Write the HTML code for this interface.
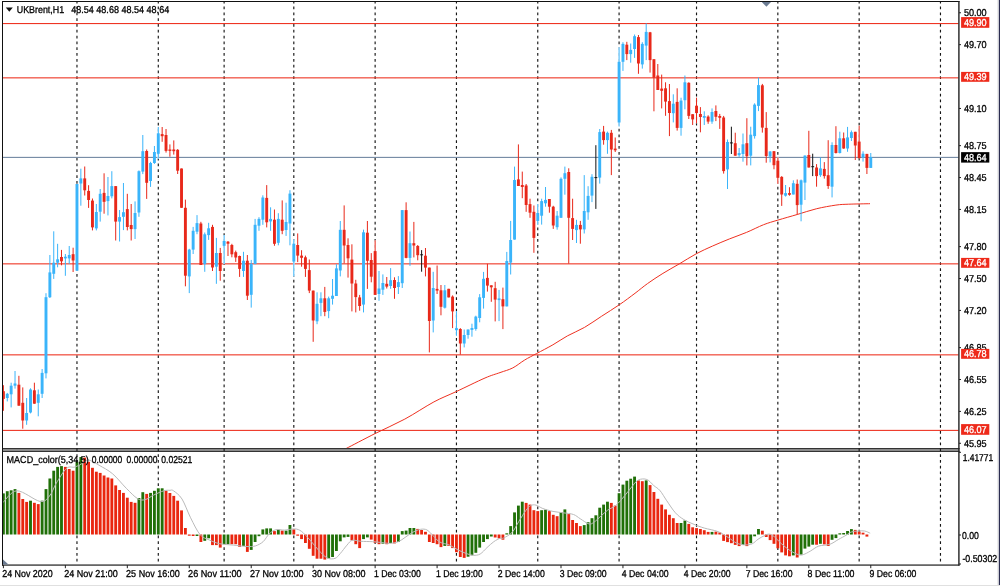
<!DOCTYPE html><html><head><meta charset="utf-8"><title>UKBrent H1</title><style>html,body{margin:0;padding:0;background:#fff;width:1000px;height:586px;overflow:hidden}</style></head><body><svg width="1000" height="586" viewBox="0 0 1000 586" style="position:absolute;left:0;top:0">
<defs><clipPath id="cm"><rect x="3" y="2" width="955.5" height="446"/></clipPath><clipPath id="ci"><rect x="3" y="452" width="955.5" height="112.5"/></clipPath></defs>
<rect width="1000" height="586" fill="#fff"/>
<rect x="2" y="448" width="957.5" height="3.9" fill="#8a8a8a"/>
<rect x="2" y="448" width="957.5" height="0.9" fill="#2a2a2a"/>
<rect x="2" y="451" width="957.5" height="0.9" fill="#2a2a2a"/>
<line x1="76.97" x2="76.97" y1="1" y2="563" stroke="#161616" stroke-width="1.15" stroke-dasharray="2.75 3.0625" stroke-dashoffset="0.22"/>
<line x1="158.29" x2="158.29" y1="1" y2="563" stroke="#161616" stroke-width="1.15" stroke-dasharray="2.75 3.0625" stroke-dashoffset="0.22"/>
<line x1="224.12" x2="224.12" y1="1" y2="563" stroke="#161616" stroke-width="1.15" stroke-dasharray="2.75 3.0625" stroke-dashoffset="0.22"/>
<line x1="293.81" x2="293.81" y1="1" y2="563" stroke="#161616" stroke-width="1.15" stroke-dasharray="2.75 3.0625" stroke-dashoffset="0.22"/>
<line x1="375.13" x2="375.13" y1="1" y2="563" stroke="#161616" stroke-width="1.15" stroke-dasharray="2.75 3.0625" stroke-dashoffset="0.22"/>
<line x1="456.45" x2="456.45" y1="1" y2="563" stroke="#161616" stroke-width="1.15" stroke-dasharray="2.75 3.0625" stroke-dashoffset="0.22"/>
<line x1="537.76" x2="537.76" y1="1" y2="563" stroke="#161616" stroke-width="1.15" stroke-dasharray="2.75 3.0625" stroke-dashoffset="0.22"/>
<line x1="619.08" x2="619.08" y1="1" y2="563" stroke="#161616" stroke-width="1.15" stroke-dasharray="2.75 3.0625" stroke-dashoffset="0.22"/>
<line x1="696.52" x2="696.52" y1="1" y2="563" stroke="#161616" stroke-width="1.15" stroke-dasharray="2.75 3.0625" stroke-dashoffset="0.22"/>
<line x1="777.84" x2="777.84" y1="1" y2="563" stroke="#161616" stroke-width="1.15" stroke-dasharray="2.75 3.0625" stroke-dashoffset="0.22"/>
<line x1="859.16" x2="859.16" y1="1" y2="563" stroke="#161616" stroke-width="1.15" stroke-dasharray="2.75 3.0625" stroke-dashoffset="0.22"/>
<line x1="940.47" x2="940.47" y1="1" y2="563" stroke="#161616" stroke-width="1.15" stroke-dasharray="2.75 3.0625" stroke-dashoffset="0.22"/>
<g clip-path="url(#cm)">
<rect x="3" y="156.85" width="956" height="1.1" fill="#7288a2"/>
<rect x="3" y="23.0" width="956" height="1.1" fill="#ee3524"/>
<rect x="3" y="77.3" width="956" height="1.1" fill="#ee3524"/>
<rect x="3" y="263.3" width="956" height="1.1" fill="#ee3524"/>
<rect x="3" y="354.3" width="956" height="1.1" fill="#ee3524"/>
<rect x="3" y="429.84999999999997" width="956" height="1.1" fill="#ee3524"/>
<path fill="none" stroke="#ee3020" stroke-width="1" d="M345.00,449.00 C345.17,448.93 341.00,451.17 346.00,448.60 C351.00,446.03 365.20,438.52 375.00,433.60 C384.80,428.68 394.98,424.38 404.80,419.10 C414.62,413.82 425.37,406.47 433.90,401.90 C442.43,397.33 447.48,395.68 456.00,391.70 C464.52,387.72 477.67,381.18 485.00,378.00 C492.33,374.82 495.37,374.28 500.00,372.60 C504.63,370.92 508.68,370.00 512.80,367.90 C516.92,365.80 520.72,362.40 524.70,360.00 C528.68,357.60 532.00,356.03 536.70,353.50 C541.40,350.97 547.78,347.73 552.90,344.80 C558.02,341.87 562.13,338.80 567.40,335.90 C572.67,333.00 578.82,330.67 584.50,327.40 C590.18,324.13 595.68,320.08 601.50,316.30 C607.32,312.52 613.82,308.53 619.40,304.70 C624.98,300.87 630.32,296.82 635.00,293.30 C639.68,289.78 642.85,286.92 647.50,283.60 C652.15,280.28 657.63,276.67 662.90,273.40 C668.17,270.13 673.55,267.27 679.10,264.00 C684.65,260.73 690.65,256.78 696.20,253.80 C701.75,250.82 706.85,248.58 712.40,246.10 C717.95,243.62 723.82,241.18 729.50,238.90 C735.18,236.62 740.82,234.77 746.50,232.40 C752.18,230.03 758.37,226.75 763.60,224.70 C768.83,222.65 772.30,221.80 777.90,220.10 C783.50,218.40 790.80,216.38 797.20,214.50 C803.60,212.62 809.85,210.37 816.30,208.80 C822.75,207.23 830.50,205.87 835.90,205.10 C841.30,204.33 843.02,204.43 848.70,204.20 C854.38,203.97 866.45,203.78 870.00,203.70"/>
<rect x="2.9" y="385.2" width="1.0" height="25.6" fill="#e8281a"/>
<rect x="1.95" y="391.2" width="2.9" height="7.7" fill="#e8281a"/>
<rect x="6.77" y="392.9" width="1.0" height="8.5" fill="#3ab4fa"/>
<rect x="5.82" y="393.8" width="2.9" height="4.2" fill="#3ab4fa"/>
<rect x="10.64" y="382.7" width="1.0" height="24.7" fill="#3ab4fa"/>
<rect x="9.69" y="385.7" width="2.9" height="8.6" fill="#3ab4fa"/>
<rect x="14.52" y="371" width="1.0" height="17.6" fill="#3ab4fa"/>
<rect x="13.57" y="383.5" width="2.9" height="2.2" fill="#3ab4fa"/>
<rect x="18.39" y="375.8" width="1.0" height="29.9" fill="#e8281a"/>
<rect x="17.44" y="384.7" width="2.9" height="21" fill="#e8281a"/>
<rect x="22.26" y="387.4" width="1.0" height="41.3" fill="#e8281a"/>
<rect x="21.31" y="402.8" width="2.9" height="17.7" fill="#e8281a"/>
<rect x="26.13" y="398" width="1.0" height="26.8" fill="#3ab4fa"/>
<rect x="25.18" y="413" width="2.9" height="7.5" fill="#3ab4fa"/>
<rect x="30.01" y="388.3" width="1.0" height="25.1" fill="#3ab4fa"/>
<rect x="29.06" y="389.5" width="2.9" height="23" fill="#3ab4fa"/>
<rect x="33.88" y="382.7" width="1.0" height="21" fill="#e8281a"/>
<rect x="32.93" y="390.3" width="2.9" height="13.4" fill="#e8281a"/>
<rect x="37.75" y="389.5" width="1.0" height="26.8" fill="#3ab4fa"/>
<rect x="36.8" y="394.3" width="2.9" height="8.5" fill="#3ab4fa"/>
<rect x="41.62" y="369" width="1.0" height="29" fill="#3ab4fa"/>
<rect x="40.67" y="372.9" width="2.9" height="20.9" fill="#3ab4fa"/>
<rect x="45.49" y="293.2" width="1.0" height="85.2" fill="#3ab4fa"/>
<rect x="44.54" y="297.2" width="2.9" height="76.1" fill="#3ab4fa"/>
<rect x="49.37" y="255" width="1.0" height="43" fill="#3ab4fa"/>
<rect x="48.42" y="272.4" width="2.9" height="24.8" fill="#3ab4fa"/>
<rect x="53.24" y="231.3" width="1.0" height="47.6" fill="#3ab4fa"/>
<rect x="52.29" y="262.7" width="2.9" height="11.1" fill="#3ab4fa"/>
<rect x="57.11" y="243.8" width="1.0" height="23.5" fill="#3ab4fa"/>
<rect x="56.16" y="259.3" width="2.9" height="3.4" fill="#3ab4fa"/>
<rect x="60.98" y="249.9" width="1.0" height="15.4" fill="#e8281a"/>
<rect x="60.03" y="257" width="2.9" height="4.3" fill="#e8281a"/>
<rect x="64.86" y="254" width="1.0" height="21.8" fill="#3ab4fa"/>
<rect x="63.91" y="256.7" width="2.9" height="1.7" fill="#3ab4fa"/>
<rect x="68.73" y="246" width="1.0" height="17.9" fill="#3ab4fa"/>
<rect x="67.78" y="255" width="2.9" height="3.4" fill="#3ab4fa"/>
<rect x="72.6" y="247.7" width="1.0" height="24.3" fill="#e8281a"/>
<rect x="71.65" y="254.2" width="2.9" height="6.3" fill="#e8281a"/>
<rect x="76.07" y="184" width="1.8" height="86.7" fill="#fff"/>
<rect x="76.47" y="184" width="1.0" height="86.7" fill="#3ab4fa"/>
<rect x="75.52" y="184" width="2.9" height="86.7" fill="#3ab4fa"/>
<rect x="80.34" y="168.7" width="1.0" height="37" fill="#3ab4fa"/>
<rect x="79.39" y="178.4" width="2.9" height="5.1" fill="#3ab4fa"/>
<rect x="84.22" y="166.5" width="1.0" height="29" fill="#e8281a"/>
<rect x="83.27" y="178.4" width="2.9" height="11.9" fill="#e8281a"/>
<rect x="88.09" y="185.2" width="1.0" height="22.7" fill="#e8281a"/>
<rect x="87.14" y="190.9" width="2.9" height="9.1" fill="#e8281a"/>
<rect x="91.96" y="198.5" width="1.0" height="31.9" fill="#e8281a"/>
<rect x="91.01" y="200.6" width="2.9" height="26.8" fill="#e8281a"/>
<rect x="95.83" y="204" width="1.0" height="26.4" fill="#3ab4fa"/>
<rect x="94.88" y="212" width="2.9" height="16.4" fill="#3ab4fa"/>
<rect x="99.7" y="189" width="1.0" height="32.6" fill="#3ab4fa"/>
<rect x="98.75" y="193.8" width="2.9" height="17.9" fill="#3ab4fa"/>
<rect x="103.58" y="173.3" width="1.0" height="40.4" fill="#e8281a"/>
<rect x="102.63" y="192.9" width="2.9" height="8.9" fill="#e8281a"/>
<rect x="107.45" y="177" width="1.0" height="38.4" fill="#3ab4fa"/>
<rect x="106.5" y="196" width="2.9" height="5.1" fill="#3ab4fa"/>
<rect x="111.32" y="171.2" width="1.0" height="27.2" fill="#3ab4fa"/>
<rect x="110.37" y="186.1" width="2.9" height="10.2" fill="#3ab4fa"/>
<rect x="115.19" y="186.1" width="1.0" height="54.4" fill="#e8281a"/>
<rect x="114.24" y="186.1" width="2.9" height="35.5" fill="#e8281a"/>
<rect x="119.07" y="210" width="1.0" height="31.5" fill="#3ab4fa"/>
<rect x="118.12" y="217.1" width="2.9" height="4.5" fill="#3ab4fa"/>
<rect x="122.94" y="183" width="1.0" height="47.1" fill="#3ab4fa"/>
<rect x="121.99" y="212.2" width="2.9" height="4.6" fill="#3ab4fa"/>
<rect x="126.81" y="193.8" width="1.0" height="36.6" fill="#e8281a"/>
<rect x="125.86" y="209.1" width="2.9" height="17.9" fill="#e8281a"/>
<rect x="130.68" y="204" width="1.0" height="36.5" fill="#e8281a"/>
<rect x="129.73" y="225" width="2.9" height="4.1" fill="#e8281a"/>
<rect x="134.55" y="201.4" width="1.0" height="37.6" fill="#3ab4fa"/>
<rect x="133.6" y="213" width="2.9" height="16.1" fill="#3ab4fa"/>
<rect x="138.43" y="170.4" width="1.0" height="46.4" fill="#3ab4fa"/>
<rect x="137.48" y="171.2" width="2.9" height="41.3" fill="#3ab4fa"/>
<rect x="142.3" y="135" width="1.0" height="39.1" fill="#3ab4fa"/>
<rect x="141.35" y="151.2" width="2.9" height="20.4" fill="#3ab4fa"/>
<rect x="146.17" y="149.5" width="1.0" height="49.4" fill="#e8281a"/>
<rect x="145.22" y="151" width="2.9" height="31.8" fill="#e8281a"/>
<rect x="150.04" y="161.8" width="1.0" height="25.1" fill="#3ab4fa"/>
<rect x="149.09" y="163" width="2.9" height="18" fill="#3ab4fa"/>
<rect x="153.92" y="146" width="1.0" height="17.9" fill="#3ab4fa"/>
<rect x="152.97" y="152" width="2.9" height="11" fill="#3ab4fa"/>
<rect x="157.39" y="127" width="1.8" height="31.9" fill="#fff"/>
<rect x="157.79" y="127" width="1.0" height="31.9" fill="#3ab4fa"/>
<rect x="156.84" y="133.3" width="2.9" height="20.5" fill="#3ab4fa"/>
<rect x="161.66" y="127" width="1.0" height="14.8" fill="#e8281a"/>
<rect x="160.71" y="134.1" width="2.9" height="2.1" fill="#e8281a"/>
<rect x="165.53" y="129" width="1.0" height="23.6" fill="#e8281a"/>
<rect x="164.58" y="135" width="2.9" height="15.9" fill="#e8281a"/>
<rect x="169.4" y="144.4" width="1.0" height="12.3" fill="#e8281a"/>
<rect x="168.45" y="149.5" width="2.9" height="1.4" fill="#e8281a"/>
<rect x="173.28" y="140.4" width="1.0" height="14.2" fill="#e8281a"/>
<rect x="172.33" y="149.5" width="2.9" height="1.7" fill="#e8281a"/>
<rect x="177.15" y="149.1" width="1.0" height="24.9" fill="#e8281a"/>
<rect x="176.2" y="149.8" width="2.9" height="20.9" fill="#e8281a"/>
<rect x="181.02" y="168.5" width="1.0" height="39.3" fill="#e8281a"/>
<rect x="180.07" y="168.5" width="2.9" height="39.3" fill="#e8281a"/>
<rect x="184.89" y="199.6" width="1.0" height="86.7" fill="#e8281a"/>
<rect x="183.94" y="207.8" width="2.9" height="67.9" fill="#e8281a"/>
<rect x="188.77" y="248.8" width="1.0" height="44.3" fill="#3ab4fa"/>
<rect x="187.82" y="249.6" width="2.9" height="26.8" fill="#3ab4fa"/>
<rect x="192.64" y="226.9" width="1.0" height="27.1" fill="#3ab4fa"/>
<rect x="191.69" y="230.8" width="2.9" height="18.8" fill="#3ab4fa"/>
<rect x="196.51" y="215.1" width="1.0" height="19.1" fill="#3ab4fa"/>
<rect x="195.56" y="223.1" width="2.9" height="8.6" fill="#3ab4fa"/>
<rect x="200.38" y="221.8" width="1.0" height="43.2" fill="#e8281a"/>
<rect x="199.43" y="223.5" width="2.9" height="41.5" fill="#e8281a"/>
<rect x="204.25" y="232.5" width="1.0" height="39.3" fill="#3ab4fa"/>
<rect x="203.3" y="234.3" width="2.9" height="29.8" fill="#3ab4fa"/>
<rect x="208.13" y="222.8" width="1.0" height="17.1" fill="#3ab4fa"/>
<rect x="207.18" y="228.3" width="2.9" height="6.8" fill="#3ab4fa"/>
<rect x="212" y="224.8" width="1.0" height="46.2" fill="#e8281a"/>
<rect x="211.05" y="226.9" width="2.9" height="40.6" fill="#e8281a"/>
<rect x="215.87" y="237.9" width="1.0" height="45.9" fill="#3ab4fa"/>
<rect x="214.92" y="253" width="2.9" height="13.7" fill="#3ab4fa"/>
<rect x="219.74" y="247.9" width="1.0" height="32.8" fill="#e8281a"/>
<rect x="218.79" y="253" width="2.9" height="18" fill="#e8281a"/>
<rect x="223.22" y="235" width="1.8" height="29.1" fill="#fff"/>
<rect x="223.62" y="235" width="1.0" height="29.1" fill="#3ab4fa"/>
<rect x="222.67" y="241" width="2.9" height="4.8" fill="#3ab4fa"/>
<rect x="227.49" y="241" width="1.0" height="15" fill="#e8281a"/>
<rect x="226.54" y="241.7" width="2.9" height="2" fill="#e8281a"/>
<rect x="231.36" y="243.8" width="1.0" height="13.5" fill="#e8281a"/>
<rect x="230.41" y="245" width="2.9" height="9.3" fill="#e8281a"/>
<rect x="235.23" y="250.6" width="1.0" height="11.3" fill="#e8281a"/>
<rect x="234.28" y="252.2" width="2.9" height="5.3" fill="#e8281a"/>
<rect x="239.1" y="255.6" width="1.0" height="21.3" fill="#e8281a"/>
<rect x="238.15" y="256" width="2.9" height="12.9" fill="#e8281a"/>
<rect x="242.98" y="251.8" width="1.0" height="25.1" fill="#3ab4fa"/>
<rect x="242.03" y="260.7" width="2.9" height="10.3" fill="#3ab4fa"/>
<rect x="246.85" y="255" width="1.0" height="45" fill="#e8281a"/>
<rect x="245.9" y="260.7" width="2.9" height="35" fill="#e8281a"/>
<rect x="250.72" y="259.9" width="1.0" height="47.7" fill="#3ab4fa"/>
<rect x="249.77" y="263.8" width="2.9" height="31" fill="#3ab4fa"/>
<rect x="254.59" y="218.9" width="1.0" height="45.2" fill="#3ab4fa"/>
<rect x="253.64" y="224.8" width="2.9" height="39.3" fill="#3ab4fa"/>
<rect x="258.47" y="217.2" width="1.0" height="13.6" fill="#3ab4fa"/>
<rect x="257.52" y="218.9" width="2.9" height="6.8" fill="#3ab4fa"/>
<rect x="262.34" y="195.3" width="1.0" height="29.5" fill="#3ab4fa"/>
<rect x="261.39" y="197.5" width="2.9" height="22.2" fill="#3ab4fa"/>
<rect x="266.21" y="185.1" width="1.0" height="42.3" fill="#e8281a"/>
<rect x="265.26" y="197.9" width="2.9" height="24.4" fill="#e8281a"/>
<rect x="270.08" y="207.3" width="1.0" height="23.5" fill="#3ab4fa"/>
<rect x="269.13" y="218.9" width="2.9" height="2.5" fill="#3ab4fa"/>
<rect x="273.95" y="209.5" width="1.0" height="36.3" fill="#e8281a"/>
<rect x="273" y="219.7" width="2.9" height="24.1" fill="#e8281a"/>
<rect x="277.83" y="213.2" width="1.0" height="32.1" fill="#3ab4fa"/>
<rect x="276.88" y="218.9" width="2.9" height="23.9" fill="#3ab4fa"/>
<rect x="281.7" y="200.4" width="1.0" height="33.8" fill="#e8281a"/>
<rect x="280.75" y="219.7" width="2.9" height="11.1" fill="#e8281a"/>
<rect x="285.57" y="202.7" width="1.0" height="33.2" fill="#3ab4fa"/>
<rect x="284.62" y="222" width="2.9" height="8" fill="#3ab4fa"/>
<rect x="289.44" y="190.2" width="1.0" height="55.1" fill="#3ab4fa"/>
<rect x="288.49" y="193.6" width="2.9" height="29.9" fill="#3ab4fa"/>
<rect x="292.91" y="239.4" width="1.8" height="37" fill="#fff"/>
<rect x="293.31" y="239.4" width="1.0" height="37" fill="#3ab4fa"/>
<rect x="292.36" y="243.7" width="2.9" height="17.9" fill="#3ab4fa"/>
<rect x="297.19" y="233.4" width="1.0" height="28.7" fill="#e8281a"/>
<rect x="296.24" y="245" width="2.9" height="10.6" fill="#e8281a"/>
<rect x="301.06" y="250.2" width="1.0" height="16.5" fill="#e8281a"/>
<rect x="300.11" y="255.6" width="2.9" height="2.2" fill="#e8281a"/>
<rect x="304.93" y="255.6" width="1.0" height="21.3" fill="#e8281a"/>
<rect x="303.98" y="257.3" width="2.9" height="11.6" fill="#e8281a"/>
<rect x="308.8" y="259.5" width="1.0" height="33.6" fill="#e8281a"/>
<rect x="307.85" y="270.1" width="2.9" height="20.5" fill="#e8281a"/>
<rect x="312.68" y="290.6" width="1.0" height="51.2" fill="#e8281a"/>
<rect x="311.73" y="290.6" width="2.9" height="29.9" fill="#e8281a"/>
<rect x="316.55" y="292.3" width="1.0" height="31.9" fill="#3ab4fa"/>
<rect x="315.6" y="303.8" width="2.9" height="17.5" fill="#3ab4fa"/>
<rect x="320.42" y="292.3" width="1.0" height="23.9" fill="#3ab4fa"/>
<rect x="319.47" y="298.3" width="2.9" height="4.6" fill="#3ab4fa"/>
<rect x="324.29" y="286.9" width="1.0" height="29.3" fill="#e8281a"/>
<rect x="323.34" y="298.3" width="2.9" height="13.6" fill="#e8281a"/>
<rect x="328.16" y="296.6" width="1.0" height="21.6" fill="#3ab4fa"/>
<rect x="327.21" y="298.3" width="2.9" height="12.8" fill="#3ab4fa"/>
<rect x="332.04" y="279" width="1.0" height="25.6" fill="#3ab4fa"/>
<rect x="331.09" y="295.7" width="2.9" height="3.1" fill="#3ab4fa"/>
<rect x="335.91" y="264.2" width="1.0" height="31.8" fill="#3ab4fa"/>
<rect x="334.96" y="268.4" width="2.9" height="27.6" fill="#3ab4fa"/>
<rect x="339.78" y="221" width="1.0" height="55.4" fill="#3ab4fa"/>
<rect x="338.83" y="229.8" width="2.9" height="40.7" fill="#3ab4fa"/>
<rect x="343.65" y="205.4" width="1.0" height="58" fill="#e8281a"/>
<rect x="342.7" y="229.8" width="2.9" height="15.7" fill="#e8281a"/>
<rect x="347.53" y="238.3" width="1.0" height="39.3" fill="#e8281a"/>
<rect x="346.58" y="245" width="2.9" height="13.3" fill="#e8281a"/>
<rect x="351.4" y="244.3" width="1.0" height="67.1" fill="#e8281a"/>
<rect x="350.45" y="259.6" width="2.9" height="23.9" fill="#e8281a"/>
<rect x="355.27" y="279.8" width="1.0" height="32.6" fill="#e8281a"/>
<rect x="354.32" y="283.5" width="2.9" height="13.6" fill="#e8281a"/>
<rect x="359.14" y="294.9" width="1.0" height="15.8" fill="#e8281a"/>
<rect x="358.19" y="297.4" width="2.9" height="8.6" fill="#e8281a"/>
<rect x="363.01" y="229.6" width="1.0" height="82.8" fill="#3ab4fa"/>
<rect x="362.06" y="232.3" width="2.9" height="72.3" fill="#3ab4fa"/>
<rect x="366.89" y="221" width="1.0" height="67.9" fill="#e8281a"/>
<rect x="365.94" y="232.7" width="2.9" height="28.1" fill="#e8281a"/>
<rect x="370.76" y="253.1" width="1.0" height="29.2" fill="#e8281a"/>
<rect x="369.81" y="260" width="2.9" height="16.7" fill="#e8281a"/>
<rect x="374.23" y="240.3" width="1.8" height="54.6" fill="#fff"/>
<rect x="374.63" y="240.3" width="1.0" height="54.6" fill="#e8281a"/>
<rect x="373.68" y="251.1" width="2.9" height="43.8" fill="#e8281a"/>
<rect x="378.5" y="271" width="1.0" height="29.8" fill="#3ab4fa"/>
<rect x="377.55" y="288.5" width="2.9" height="5.5" fill="#3ab4fa"/>
<rect x="382.38" y="274.4" width="1.0" height="20.5" fill="#3ab4fa"/>
<rect x="381.43" y="283" width="2.9" height="6.7" fill="#3ab4fa"/>
<rect x="386.25" y="277" width="1.0" height="11.5" fill="#e8281a"/>
<rect x="385.3" y="283.8" width="2.9" height="2.8" fill="#e8281a"/>
<rect x="390.12" y="268.1" width="1.0" height="20.7" fill="#3ab4fa"/>
<rect x="389.17" y="280.2" width="2.9" height="5.8" fill="#3ab4fa"/>
<rect x="393.99" y="277.3" width="1.0" height="21.5" fill="#e8281a"/>
<rect x="393.04" y="280" width="2.9" height="8" fill="#e8281a"/>
<rect x="397.86" y="276.1" width="1.0" height="17.9" fill="#3ab4fa"/>
<rect x="396.91" y="282.1" width="2.9" height="4.9" fill="#3ab4fa"/>
<rect x="401.74" y="210.1" width="1.0" height="77.9" fill="#3ab4fa"/>
<rect x="400.79" y="210.1" width="2.9" height="73.1" fill="#3ab4fa"/>
<rect x="405.61" y="202.3" width="1.0" height="56" fill="#e8281a"/>
<rect x="404.66" y="210.1" width="2.9" height="47.8" fill="#e8281a"/>
<rect x="409.48" y="231.5" width="1.0" height="34.4" fill="#3ab4fa"/>
<rect x="408.53" y="243.2" width="2.9" height="14.7" fill="#3ab4fa"/>
<rect x="413.35" y="221.9" width="1.0" height="35.5" fill="#e8281a"/>
<rect x="412.4" y="243.2" width="2.9" height="2.3" fill="#e8281a"/>
<rect x="417.23" y="245" width="1.0" height="15.3" fill="#e8281a"/>
<rect x="416.28" y="246" width="2.9" height="9.2" fill="#e8281a"/>
<rect x="421.1" y="250.1" width="1.0" height="21.6" fill="#111"/>
<rect x="420.15" y="254.3" width="2.9" height="1" fill="#111"/>
<rect x="424.97" y="248" width="1.0" height="28.4" fill="#e8281a"/>
<rect x="424.02" y="255.7" width="2.9" height="11.9" fill="#e8281a"/>
<rect x="428.84" y="267.6" width="1.0" height="84.8" fill="#e8281a"/>
<rect x="427.89" y="267.6" width="2.9" height="53.4" fill="#e8281a"/>
<rect x="432.71" y="271.8" width="1.0" height="60.6" fill="#3ab4fa"/>
<rect x="431.76" y="288" width="2.9" height="32.5" fill="#3ab4fa"/>
<rect x="436.59" y="265.5" width="1.0" height="28.5" fill="#e8281a"/>
<rect x="435.64" y="288.9" width="2.9" height="1.7" fill="#e8281a"/>
<rect x="440.46" y="285" width="1.0" height="30.3" fill="#e8281a"/>
<rect x="439.51" y="290.3" width="2.9" height="16.5" fill="#e8281a"/>
<rect x="444.33" y="285" width="1.0" height="23.5" fill="#3ab4fa"/>
<rect x="443.38" y="290.3" width="2.9" height="17.4" fill="#3ab4fa"/>
<rect x="448.2" y="288.8" width="1.0" height="8.6" fill="#e8281a"/>
<rect x="447.25" y="288.8" width="2.9" height="8.6" fill="#e8281a"/>
<rect x="452.08" y="295.4" width="1.0" height="32.7" fill="#e8281a"/>
<rect x="451.13" y="296.6" width="2.9" height="14.8" fill="#e8281a"/>
<rect x="455.55" y="311.1" width="1.8" height="24.7" fill="#fff"/>
<rect x="455.95" y="311.1" width="1.0" height="24.7" fill="#3ab4fa"/>
<rect x="455" y="328.1" width="2.9" height="2.1" fill="#3ab4fa"/>
<rect x="459.82" y="328.1" width="1.0" height="26.5" fill="#e8281a"/>
<rect x="458.87" y="329" width="2.9" height="14.5" fill="#e8281a"/>
<rect x="463.69" y="329.5" width="1.0" height="17.9" fill="#3ab4fa"/>
<rect x="462.74" y="335" width="2.9" height="8.5" fill="#3ab4fa"/>
<rect x="467.56" y="329.5" width="1.0" height="9.2" fill="#3ab4fa"/>
<rect x="466.61" y="329.5" width="2.9" height="5.5" fill="#3ab4fa"/>
<rect x="471.44" y="323.7" width="1.0" height="13" fill="#3ab4fa"/>
<rect x="470.49" y="328" width="2.9" height="1.9" fill="#3ab4fa"/>
<rect x="475.31" y="315.7" width="1.0" height="15" fill="#3ab4fa"/>
<rect x="474.36" y="316.6" width="2.9" height="12.4" fill="#3ab4fa"/>
<rect x="479.18" y="294.1" width="1.0" height="28.2" fill="#3ab4fa"/>
<rect x="478.23" y="297.3" width="2.9" height="20.7" fill="#3ab4fa"/>
<rect x="483.05" y="271.9" width="1.0" height="36.7" fill="#3ab4fa"/>
<rect x="482.1" y="278.8" width="2.9" height="19.1" fill="#3ab4fa"/>
<rect x="486.92" y="263.75" width="1.0" height="27.85" fill="#e8281a"/>
<rect x="485.97" y="277.9" width="2.9" height="7.7" fill="#e8281a"/>
<rect x="490.8" y="285.3" width="1.0" height="16.5" fill="#e8281a"/>
<rect x="489.85" y="285.3" width="2.9" height="2" fill="#e8281a"/>
<rect x="494.67" y="281.8" width="1.0" height="39.6" fill="#e8281a"/>
<rect x="493.72" y="288.2" width="2.9" height="11.4" fill="#e8281a"/>
<rect x="498.54" y="289.9" width="1.0" height="31.2" fill="#3ab4fa"/>
<rect x="497.59" y="298.4" width="2.9" height="1.7" fill="#3ab4fa"/>
<rect x="502.41" y="287.6" width="1.0" height="41.5" fill="#e8281a"/>
<rect x="501.46" y="299.2" width="2.9" height="7.2" fill="#e8281a"/>
<rect x="506.29" y="251.9" width="1.0" height="54.5" fill="#3ab4fa"/>
<rect x="505.34" y="261" width="2.9" height="45.4" fill="#3ab4fa"/>
<rect x="510.16" y="220.9" width="1.0" height="53.6" fill="#3ab4fa"/>
<rect x="509.21" y="240" width="2.9" height="22.6" fill="#3ab4fa"/>
<rect x="514.03" y="166.6" width="1.0" height="73" fill="#3ab4fa"/>
<rect x="513.08" y="180" width="2.9" height="59.6" fill="#3ab4fa"/>
<rect x="517.9" y="144.4" width="1.0" height="41.6" fill="#e8281a"/>
<rect x="516.95" y="179.4" width="2.9" height="6.6" fill="#e8281a"/>
<rect x="521.77" y="171.6" width="1.0" height="26.6" fill="#e8281a"/>
<rect x="520.82" y="185" width="2.9" height="2" fill="#e8281a"/>
<rect x="525.65" y="184" width="1.0" height="27.8" fill="#e8281a"/>
<rect x="524.7" y="185.5" width="2.9" height="19.5" fill="#e8281a"/>
<rect x="529.52" y="198.7" width="1.0" height="19.1" fill="#e8281a"/>
<rect x="528.57" y="204.1" width="2.9" height="8.6" fill="#e8281a"/>
<rect x="533.39" y="205.5" width="1.0" height="47.3" fill="#e8281a"/>
<rect x="532.44" y="211.8" width="2.9" height="26.1" fill="#e8281a"/>
<rect x="536.86" y="204.1" width="1.8" height="20.5" fill="#fff"/>
<rect x="537.26" y="204.1" width="1.0" height="20.5" fill="#3ab4fa"/>
<rect x="536.31" y="213" width="2.9" height="7.9" fill="#3ab4fa"/>
<rect x="541.14" y="198.7" width="1.0" height="25.9" fill="#3ab4fa"/>
<rect x="540.19" y="201.1" width="2.9" height="14.6" fill="#3ab4fa"/>
<rect x="545.01" y="187" width="1.0" height="19.7" fill="#3ab4fa"/>
<rect x="544.06" y="199.9" width="2.9" height="3.4" fill="#3ab4fa"/>
<rect x="548.88" y="199" width="1.0" height="13.7" fill="#e8281a"/>
<rect x="547.93" y="199" width="2.9" height="7.7" fill="#e8281a"/>
<rect x="552.75" y="205.8" width="1.0" height="23.1" fill="#e8281a"/>
<rect x="551.8" y="206.7" width="2.9" height="18.8" fill="#e8281a"/>
<rect x="556.62" y="211" width="1.0" height="18.7" fill="#3ab4fa"/>
<rect x="555.67" y="215.7" width="2.9" height="11.5" fill="#3ab4fa"/>
<rect x="560.5" y="177.4" width="1.0" height="40.4" fill="#3ab4fa"/>
<rect x="559.55" y="178.8" width="2.9" height="39" fill="#3ab4fa"/>
<rect x="564.37" y="166.6" width="1.0" height="28.1" fill="#3ab4fa"/>
<rect x="563.42" y="173.2" width="2.9" height="5.6" fill="#3ab4fa"/>
<rect x="568.24" y="168.3" width="1.0" height="95.3" fill="#e8281a"/>
<rect x="567.29" y="172" width="2.9" height="45.8" fill="#e8281a"/>
<rect x="572.11" y="198.7" width="1.0" height="41.3" fill="#e8281a"/>
<rect x="571.16" y="218.1" width="2.9" height="10.8" fill="#e8281a"/>
<rect x="575.99" y="219.8" width="1.0" height="23.2" fill="#3ab4fa"/>
<rect x="575.04" y="224.9" width="2.9" height="5.2" fill="#3ab4fa"/>
<rect x="579.86" y="220.9" width="1.0" height="22.8" fill="#e8281a"/>
<rect x="578.91" y="224.9" width="2.9" height="4.5" fill="#e8281a"/>
<rect x="583.73" y="175.1" width="1.0" height="58.4" fill="#3ab4fa"/>
<rect x="582.78" y="211" width="2.9" height="18.4" fill="#3ab4fa"/>
<rect x="587.6" y="186.2" width="1.0" height="33.6" fill="#3ab4fa"/>
<rect x="586.65" y="195.9" width="2.9" height="16.4" fill="#3ab4fa"/>
<rect x="591.47" y="174.2" width="1.0" height="27.9" fill="#3ab4fa"/>
<rect x="590.52" y="176.8" width="2.9" height="18.8" fill="#3ab4fa"/>
<rect x="595.35" y="145.2" width="1.0" height="63.7" fill="#111"/>
<rect x="594.4" y="177.1" width="2.9" height="1" fill="#111"/>
<rect x="599.22" y="129" width="1.0" height="54.6" fill="#3ab4fa"/>
<rect x="598.27" y="132.1" width="2.9" height="45.5" fill="#3ab4fa"/>
<rect x="603.09" y="125.9" width="1.0" height="18.8" fill="#e8281a"/>
<rect x="602.14" y="131.6" width="2.9" height="8.5" fill="#e8281a"/>
<rect x="606.96" y="131.6" width="1.0" height="22.2" fill="#3ab4fa"/>
<rect x="606.01" y="132.8" width="2.9" height="7.3" fill="#3ab4fa"/>
<rect x="610.84" y="129.9" width="1.0" height="45.2" fill="#e8281a"/>
<rect x="609.89" y="132.8" width="2.9" height="16.7" fill="#e8281a"/>
<rect x="614.71" y="137.5" width="1.0" height="14.5" fill="#e8281a"/>
<rect x="613.76" y="148.6" width="2.9" height="1.7" fill="#e8281a"/>
<rect x="618.18" y="47.3" width="1.8" height="79.2" fill="#fff"/>
<rect x="618.58" y="47.3" width="1.0" height="79.2" fill="#3ab4fa"/>
<rect x="617.63" y="61.8" width="2.9" height="60.7" fill="#3ab4fa"/>
<rect x="622.45" y="42.2" width="1.0" height="28.7" fill="#3ab4fa"/>
<rect x="621.5" y="43.9" width="2.9" height="17.9" fill="#3ab4fa"/>
<rect x="626.32" y="41.8" width="1.0" height="18.3" fill="#e8281a"/>
<rect x="625.37" y="44.7" width="2.9" height="9.4" fill="#e8281a"/>
<rect x="630.2" y="43.5" width="1.0" height="19.2" fill="#3ab4fa"/>
<rect x="629.25" y="49.9" width="2.9" height="4.2" fill="#3ab4fa"/>
<rect x="634.07" y="34.5" width="1.0" height="23.4" fill="#3ab4fa"/>
<rect x="633.12" y="36.2" width="2.9" height="12.8" fill="#3ab4fa"/>
<rect x="637.94" y="35" width="1.0" height="38.8" fill="#e8281a"/>
<rect x="636.99" y="37.1" width="2.9" height="26.4" fill="#e8281a"/>
<rect x="641.81" y="42.2" width="1.0" height="26.4" fill="#3ab4fa"/>
<rect x="640.86" y="43.9" width="2.9" height="20.5" fill="#3ab4fa"/>
<rect x="645.69" y="23.4" width="1.0" height="36.7" fill="#3ab4fa"/>
<rect x="644.74" y="31.9" width="2.9" height="13.7" fill="#3ab4fa"/>
<rect x="649.56" y="31.9" width="1.0" height="40.7" fill="#e8281a"/>
<rect x="648.61" y="32.3" width="2.9" height="27.8" fill="#e8281a"/>
<rect x="653.43" y="59.2" width="1.0" height="52.1" fill="#e8281a"/>
<rect x="652.48" y="59.2" width="2.9" height="18.5" fill="#e8281a"/>
<rect x="657.3" y="64" width="1.0" height="26" fill="#e8281a"/>
<rect x="656.35" y="75.5" width="2.9" height="14.5" fill="#e8281a"/>
<rect x="661.17" y="74.6" width="1.0" height="33.8" fill="#e8281a"/>
<rect x="660.22" y="88.6" width="2.9" height="2.2" fill="#e8281a"/>
<rect x="665.05" y="82.3" width="1.0" height="33.5" fill="#e8281a"/>
<rect x="664.1" y="88.3" width="2.9" height="13.3" fill="#e8281a"/>
<rect x="668.92" y="84" width="1.0" height="52.1" fill="#e8281a"/>
<rect x="667.97" y="101.1" width="2.9" height="11.9" fill="#e8281a"/>
<rect x="672.79" y="94.3" width="1.0" height="28.1" fill="#3ab4fa"/>
<rect x="671.84" y="103.7" width="2.9" height="9.5" fill="#3ab4fa"/>
<rect x="676.66" y="88.3" width="1.0" height="42.3" fill="#e8281a"/>
<rect x="675.71" y="101.9" width="2.9" height="26" fill="#e8281a"/>
<rect x="680.53" y="97.7" width="1.0" height="38" fill="#3ab4fa"/>
<rect x="679.58" y="100.6" width="2.9" height="27.3" fill="#3ab4fa"/>
<rect x="684.41" y="75.5" width="1.0" height="33.8" fill="#3ab4fa"/>
<rect x="683.46" y="82.3" width="2.9" height="17.9" fill="#3ab4fa"/>
<rect x="688.28" y="82.3" width="1.0" height="36.7" fill="#e8281a"/>
<rect x="687.33" y="82.8" width="2.9" height="33.1" fill="#e8281a"/>
<rect x="692.15" y="114.2" width="1.0" height="10.8" fill="#e8281a"/>
<rect x="691.2" y="114.2" width="2.9" height="5.2" fill="#e8281a"/>
<rect x="695.62" y="97.7" width="1.8" height="25.6" fill="#fff"/>
<rect x="696.02" y="97.7" width="1.0" height="25.6" fill="#e8281a"/>
<rect x="695.07" y="105.7" width="2.9" height="7.3" fill="#e8281a"/>
<rect x="699.9" y="107.1" width="1.0" height="25.2" fill="#e8281a"/>
<rect x="698.95" y="114" width="2.9" height="3" fill="#e8281a"/>
<rect x="703.77" y="111.3" width="1.0" height="13.7" fill="#3ab4fa"/>
<rect x="702.82" y="116" width="2.9" height="1.8" fill="#3ab4fa"/>
<rect x="707.64" y="115.3" width="1.0" height="8.5" fill="#e8281a"/>
<rect x="706.69" y="116.6" width="2.9" height="5" fill="#e8281a"/>
<rect x="711.51" y="108.4" width="1.0" height="15.4" fill="#3ab4fa"/>
<rect x="710.56" y="112" width="2.9" height="9.6" fill="#3ab4fa"/>
<rect x="715.38" y="105.4" width="1.0" height="15.7" fill="#e8281a"/>
<rect x="714.43" y="111" width="2.9" height="5.8" fill="#e8281a"/>
<rect x="719.26" y="113.9" width="1.0" height="15" fill="#e8281a"/>
<rect x="718.31" y="116" width="2.9" height="1.8" fill="#e8281a"/>
<rect x="723.13" y="115.9" width="1.0" height="57.7" fill="#e8281a"/>
<rect x="722.18" y="117.5" width="2.9" height="53.6" fill="#e8281a"/>
<rect x="727" y="139.5" width="1.0" height="49.5" fill="#3ab4fa"/>
<rect x="726.05" y="142" width="2.9" height="27.4" fill="#3ab4fa"/>
<rect x="730.87" y="126.7" width="1.0" height="27.3" fill="#111"/>
<rect x="729.92" y="142.4" width="2.9" height="1" fill="#111"/>
<rect x="734.75" y="132.7" width="1.0" height="23" fill="#e8281a"/>
<rect x="733.8" y="143.2" width="2.9" height="12.5" fill="#e8281a"/>
<rect x="738.62" y="148" width="1.0" height="8.9" fill="#3ab4fa"/>
<rect x="737.67" y="153.1" width="2.9" height="2.1" fill="#3ab4fa"/>
<rect x="742.49" y="133.5" width="1.0" height="28.2" fill="#3ab4fa"/>
<rect x="741.54" y="144.3" width="2.9" height="9.7" fill="#3ab4fa"/>
<rect x="746.36" y="118.2" width="1.0" height="47.2" fill="#e8281a"/>
<rect x="745.41" y="143.2" width="2.9" height="13" fill="#e8281a"/>
<rect x="750.23" y="126.7" width="1.0" height="38.7" fill="#3ab4fa"/>
<rect x="749.28" y="134.7" width="2.9" height="21" fill="#3ab4fa"/>
<rect x="754.11" y="103.3" width="1.0" height="35.3" fill="#3ab4fa"/>
<rect x="753.16" y="104.6" width="2.9" height="31.5" fill="#3ab4fa"/>
<rect x="757.98" y="77.6" width="1.0" height="33.5" fill="#3ab4fa"/>
<rect x="757.03" y="85.1" width="2.9" height="20.8" fill="#3ab4fa"/>
<rect x="761.85" y="83.9" width="1.0" height="48.7" fill="#e8281a"/>
<rect x="760.9" y="85.3" width="2.9" height="42.3" fill="#e8281a"/>
<rect x="765.72" y="112.1" width="1.0" height="50.6" fill="#e8281a"/>
<rect x="764.77" y="127.9" width="2.9" height="28.1" fill="#e8281a"/>
<rect x="769.6" y="151.1" width="1.0" height="11.3" fill="#3ab4fa"/>
<rect x="768.65" y="151.5" width="2.9" height="5" fill="#3ab4fa"/>
<rect x="773.47" y="151.1" width="1.0" height="18.2" fill="#e8281a"/>
<rect x="772.52" y="151.2" width="2.9" height="14" fill="#e8281a"/>
<rect x="776.94" y="157.4" width="1.8" height="26.4" fill="#fff"/>
<rect x="777.34" y="157.4" width="1.0" height="26.4" fill="#e8281a"/>
<rect x="776.39" y="160.7" width="2.9" height="17.1" fill="#e8281a"/>
<rect x="781.21" y="176.1" width="1.0" height="29.8" fill="#e8281a"/>
<rect x="780.26" y="176.9" width="2.9" height="17.6" fill="#e8281a"/>
<rect x="785.08" y="185" width="1.0" height="11.6" fill="#3ab4fa"/>
<rect x="784.13" y="193.1" width="2.9" height="2.6" fill="#3ab4fa"/>
<rect x="788.96" y="187.2" width="1.0" height="8.5" fill="#e8281a"/>
<rect x="788.01" y="193.1" width="2.9" height="1.7" fill="#e8281a"/>
<rect x="792.83" y="180.3" width="1.0" height="14.2" fill="#3ab4fa"/>
<rect x="791.88" y="183.2" width="2.9" height="11.3" fill="#3ab4fa"/>
<rect x="796.7" y="179.5" width="1.0" height="35" fill="#e8281a"/>
<rect x="795.75" y="183.8" width="2.9" height="21.3" fill="#e8281a"/>
<rect x="800.57" y="179.5" width="1.0" height="41.8" fill="#3ab4fa"/>
<rect x="799.62" y="180.3" width="2.9" height="24.4" fill="#3ab4fa"/>
<rect x="804.45" y="155.3" width="1.0" height="44.7" fill="#3ab4fa"/>
<rect x="803.5" y="155.6" width="2.9" height="27" fill="#3ab4fa"/>
<rect x="808.32" y="130.8" width="1.0" height="36.7" fill="#e8281a"/>
<rect x="807.37" y="155" width="2.9" height="12.5" fill="#e8281a"/>
<rect x="812.19" y="153.7" width="1.0" height="22.4" fill="#111"/>
<rect x="811.24" y="166.2" width="2.9" height="1" fill="#111"/>
<rect x="816.06" y="164.1" width="1.0" height="22.6" fill="#e8281a"/>
<rect x="815.11" y="167.5" width="2.9" height="8.6" fill="#e8281a"/>
<rect x="819.93" y="157.6" width="1.0" height="19.3" fill="#3ab4fa"/>
<rect x="818.98" y="168.4" width="2.9" height="6.8" fill="#3ab4fa"/>
<rect x="823.81" y="162.1" width="1.0" height="16.5" fill="#e8281a"/>
<rect x="822.86" y="168.9" width="2.9" height="7.2" fill="#e8281a"/>
<rect x="827.68" y="140.2" width="1.0" height="48.7" fill="#e8281a"/>
<rect x="826.73" y="175.2" width="2.9" height="10.8" fill="#e8281a"/>
<rect x="831.55" y="142.3" width="1.0" height="55.1" fill="#3ab4fa"/>
<rect x="830.6" y="145" width="2.9" height="41.7" fill="#3ab4fa"/>
<rect x="835.42" y="126.2" width="1.0" height="27.3" fill="#e8281a"/>
<rect x="834.47" y="145" width="2.9" height="8" fill="#e8281a"/>
<rect x="839.3" y="131.7" width="1.0" height="21.8" fill="#3ab4fa"/>
<rect x="838.35" y="138.3" width="2.9" height="14.7" fill="#3ab4fa"/>
<rect x="843.17" y="132.5" width="1.0" height="16.3" fill="#e8281a"/>
<rect x="842.22" y="138.3" width="2.9" height="10.2" fill="#e8281a"/>
<rect x="847.04" y="126.9" width="1.0" height="24.9" fill="#3ab4fa"/>
<rect x="846.09" y="137.4" width="2.9" height="11.1" fill="#3ab4fa"/>
<rect x="850.91" y="130.5" width="1.0" height="10.5" fill="#3ab4fa"/>
<rect x="849.96" y="132.2" width="2.9" height="5.8" fill="#3ab4fa"/>
<rect x="854.78" y="131.8" width="1.0" height="28.2" fill="#e8281a"/>
<rect x="853.83" y="131.8" width="2.9" height="13.7" fill="#e8281a"/>
<rect x="858.26" y="125.7" width="1.8" height="32.5" fill="#fff"/>
<rect x="858.66" y="125.7" width="1.0" height="32.5" fill="#e8281a"/>
<rect x="857.71" y="141.6" width="2.9" height="16.6" fill="#e8281a"/>
<rect x="862.53" y="151.3" width="1.0" height="10.3" fill="#3ab4fa"/>
<rect x="861.58" y="153.7" width="2.9" height="3.9" fill="#3ab4fa"/>
<rect x="866.4" y="153.9" width="1.0" height="20.1" fill="#e8281a"/>
<rect x="865.45" y="153.9" width="2.9" height="14" fill="#e8281a"/>
<rect x="870.27" y="153" width="1.0" height="14.9" fill="#3ab4fa"/>
<rect x="869.32" y="157" width="2.9" height="10.9" fill="#3ab4fa"/>
</g>
<g clip-path="url(#ci)">
<rect x="1.97" y="493.4" width="2.85" height="41.1" fill="#207008"/>
<rect x="5.85" y="491.2" width="2.85" height="43.3" fill="#207008"/>
<rect x="9.72" y="490.3" width="2.85" height="44.2" fill="#207008"/>
<rect x="13.59" y="489.1" width="2.85" height="45.4" fill="#207008"/>
<rect x="17.46" y="492.9" width="2.85" height="41.6" fill="#e9260f"/>
<rect x="21.34" y="499" width="2.85" height="35.5" fill="#e9260f"/>
<rect x="25.21" y="501.9" width="2.85" height="32.6" fill="#e9260f"/>
<rect x="29.08" y="500.7" width="2.85" height="33.8" fill="#207008"/>
<rect x="32.95" y="502.8" width="2.85" height="31.7" fill="#e9260f"/>
<rect x="36.82" y="504.1" width="2.85" height="30.4" fill="#e9260f"/>
<rect x="40.7" y="500.7" width="2.85" height="33.8" fill="#207008"/>
<rect x="44.57" y="489.1" width="2.85" height="45.4" fill="#207008"/>
<rect x="48.44" y="478.5" width="2.85" height="56" fill="#207008"/>
<rect x="52.31" y="470.7" width="2.85" height="63.8" fill="#207008"/>
<rect x="56.19" y="466.9" width="2.85" height="67.6" fill="#207008"/>
<rect x="60.06" y="466.1" width="2.85" height="68.4" fill="#207008"/>
<rect x="63.93" y="466.9" width="2.85" height="67.6" fill="#e9260f"/>
<rect x="67.8" y="469" width="2.85" height="65.5" fill="#e9260f"/>
<rect x="71.67" y="470.7" width="2.85" height="63.8" fill="#e9260f"/>
<rect x="75.55" y="461.8" width="2.85" height="72.7" fill="#207008"/>
<rect x="79.42" y="457" width="2.85" height="77.5" fill="#207008"/>
<rect x="83.29" y="457.6" width="2.85" height="76.9" fill="#e9260f"/>
<rect x="87.16" y="461.8" width="2.85" height="72.7" fill="#e9260f"/>
<rect x="91.04" y="467.8" width="2.85" height="66.7" fill="#e9260f"/>
<rect x="94.91" y="471.7" width="2.85" height="62.8" fill="#e9260f"/>
<rect x="98.78" y="472.9" width="2.85" height="61.6" fill="#e9260f"/>
<rect x="102.65" y="475.5" width="2.85" height="59" fill="#e9260f"/>
<rect x="106.52" y="477.5" width="2.85" height="57" fill="#e9260f"/>
<rect x="110.4" y="478.5" width="2.85" height="56" fill="#e9260f"/>
<rect x="114.27" y="485.4" width="2.85" height="49.1" fill="#e9260f"/>
<rect x="118.14" y="490" width="2.85" height="44.5" fill="#e9260f"/>
<rect x="122.01" y="492.9" width="2.85" height="41.6" fill="#e9260f"/>
<rect x="125.89" y="497.7" width="2.85" height="36.8" fill="#e9260f"/>
<rect x="129.76" y="501.9" width="2.85" height="32.6" fill="#e9260f"/>
<rect x="133.63" y="502.8" width="2.85" height="31.7" fill="#e9260f"/>
<rect x="137.5" y="498" width="2.85" height="36.5" fill="#207008"/>
<rect x="141.37" y="492.2" width="2.85" height="42.3" fill="#207008"/>
<rect x="145.25" y="493.9" width="2.85" height="40.6" fill="#e9260f"/>
<rect x="149.12" y="492.9" width="2.85" height="41.6" fill="#207008"/>
<rect x="152.99" y="490.8" width="2.85" height="43.7" fill="#207008"/>
<rect x="156.86" y="488.3" width="2.85" height="46.2" fill="#207008"/>
<rect x="160.74" y="488.3" width="2.85" height="46.2" fill="#207008"/>
<rect x="164.61" y="490.8" width="2.85" height="43.7" fill="#e9260f"/>
<rect x="168.48" y="493" width="2.85" height="41.5" fill="#e9260f"/>
<rect x="172.35" y="495.9" width="2.85" height="38.6" fill="#e9260f"/>
<rect x="176.22" y="500.7" width="2.85" height="33.8" fill="#e9260f"/>
<rect x="180.1" y="510.4" width="2.85" height="24.1" fill="#e9260f"/>
<rect x="183.97" y="528" width="2.85" height="6.5" fill="#e9260f"/>
<rect x="187.84" y="534.5" width="2.85" height="1.2" fill="#e9260f"/>
<rect x="191.71" y="534.5" width="2.85" height="1.5" fill="#e9260f"/>
<rect x="195.58" y="534.5" width="2.85" height="1.5" fill="#207008"/>
<rect x="199.46" y="534.5" width="2.85" height="7.5" fill="#e9260f"/>
<rect x="203.33" y="534.5" width="2.85" height="6.3" fill="#207008"/>
<rect x="207.2" y="534.5" width="2.85" height="3.8" fill="#207008"/>
<rect x="211.07" y="534.5" width="2.85" height="10.6" fill="#e9260f"/>
<rect x="214.95" y="534.5" width="2.85" height="10.6" fill="#e9260f"/>
<rect x="218.82" y="534.5" width="2.85" height="13.1" fill="#e9260f"/>
<rect x="222.69" y="534.5" width="2.85" height="9.7" fill="#207008"/>
<rect x="226.56" y="534.5" width="2.85" height="9.7" fill="#207008"/>
<rect x="230.43" y="534.5" width="2.85" height="9.7" fill="#e9260f"/>
<rect x="234.31" y="534.5" width="2.85" height="9.7" fill="#e9260f"/>
<rect x="238.18" y="534.5" width="2.85" height="12.3" fill="#e9260f"/>
<rect x="242.05" y="534.5" width="2.85" height="11.4" fill="#207008"/>
<rect x="245.92" y="534.5" width="2.85" height="17.4" fill="#e9260f"/>
<rect x="249.8" y="534.5" width="2.85" height="15.4" fill="#207008"/>
<rect x="253.67" y="534.5" width="2.85" height="7.5" fill="#207008"/>
<rect x="257.54" y="534.5" width="2.85" height="1.7" fill="#207008"/>
<rect x="261.41" y="529.4" width="2.85" height="5.1" fill="#207008"/>
<rect x="265.28" y="528.4" width="2.85" height="6.1" fill="#207008"/>
<rect x="269.16" y="528.4" width="2.85" height="6.1" fill="#207008"/>
<rect x="273.03" y="531.1" width="2.85" height="3.4" fill="#e9260f"/>
<rect x="276.9" y="529.7" width="2.85" height="4.8" fill="#207008"/>
<rect x="280.77" y="530.6" width="2.85" height="3.9" fill="#e9260f"/>
<rect x="284.65" y="530.6" width="2.85" height="3.9" fill="#207008"/>
<rect x="288.52" y="525" width="2.85" height="9.5" fill="#207008"/>
<rect x="292.39" y="529.4" width="2.85" height="5.1" fill="#e9260f"/>
<rect x="296.26" y="534.5" width="2.85" height="1.2" fill="#e9260f"/>
<rect x="300.13" y="534.5" width="2.85" height="4.6" fill="#e9260f"/>
<rect x="304.01" y="534.5" width="2.85" height="8.5" fill="#e9260f"/>
<rect x="307.88" y="534.5" width="2.85" height="14.3" fill="#e9260f"/>
<rect x="311.75" y="534.5" width="2.85" height="21.3" fill="#e9260f"/>
<rect x="315.62" y="534.5" width="2.85" height="24.2" fill="#e9260f"/>
<rect x="319.5" y="534.5" width="2.85" height="24.2" fill="#e9260f"/>
<rect x="323.37" y="534.5" width="2.85" height="25.1" fill="#e9260f"/>
<rect x="327.24" y="534.5" width="2.85" height="23.9" fill="#207008"/>
<rect x="331.11" y="534.5" width="2.85" height="22.5" fill="#207008"/>
<rect x="334.98" y="534.5" width="2.85" height="16.5" fill="#207008"/>
<rect x="338.86" y="534.5" width="2.85" height="6.8" fill="#207008"/>
<rect x="342.73" y="534.5" width="2.85" height="2.9" fill="#207008"/>
<rect x="346.6" y="534.5" width="2.85" height="2.4" fill="#207008"/>
<rect x="350.47" y="534.5" width="2.85" height="5.8" fill="#e9260f"/>
<rect x="354.35" y="534.5" width="2.85" height="9.7" fill="#e9260f"/>
<rect x="358.22" y="534.5" width="2.85" height="13.6" fill="#e9260f"/>
<rect x="362.09" y="534.5" width="2.85" height="4.6" fill="#207008"/>
<rect x="365.96" y="534.5" width="2.85" height="2.9" fill="#207008"/>
<rect x="369.83" y="534.5" width="2.85" height="5.1" fill="#e9260f"/>
<rect x="373.71" y="534.5" width="2.85" height="8.5" fill="#e9260f"/>
<rect x="377.58" y="534.5" width="2.85" height="9.7" fill="#e9260f"/>
<rect x="381.45" y="534.5" width="2.85" height="9.2" fill="#207008"/>
<rect x="385.32" y="534.5" width="2.85" height="9.7" fill="#e9260f"/>
<rect x="389.19" y="534.5" width="2.85" height="8.5" fill="#207008"/>
<rect x="393.07" y="534.5" width="2.85" height="8.9" fill="#e9260f"/>
<rect x="396.94" y="534.5" width="2.85" height="7.5" fill="#207008"/>
<rect x="400.81" y="531.1" width="2.85" height="3.4" fill="#207008"/>
<rect x="404.68" y="530.6" width="2.85" height="3.9" fill="#207008"/>
<rect x="408.56" y="528" width="2.85" height="6.5" fill="#207008"/>
<rect x="412.43" y="528" width="2.85" height="6.5" fill="#207008"/>
<rect x="416.3" y="528.9" width="2.85" height="5.6" fill="#e9260f"/>
<rect x="420.17" y="530" width="2.85" height="4.5" fill="#e9260f"/>
<rect x="424.04" y="531.8" width="2.85" height="2.7" fill="#e9260f"/>
<rect x="427.92" y="534.5" width="2.85" height="7.5" fill="#e9260f"/>
<rect x="431.79" y="534.5" width="2.85" height="8.5" fill="#e9260f"/>
<rect x="435.66" y="534.5" width="2.85" height="9.7" fill="#e9260f"/>
<rect x="439.53" y="534.5" width="2.85" height="12.6" fill="#e9260f"/>
<rect x="443.41" y="534.5" width="2.85" height="11.4" fill="#207008"/>
<rect x="447.28" y="534.5" width="2.85" height="11.4" fill="#e9260f"/>
<rect x="451.15" y="534.5" width="2.85" height="13.6" fill="#e9260f"/>
<rect x="455.02" y="534.5" width="2.85" height="17.7" fill="#e9260f"/>
<rect x="458.89" y="534.5" width="2.85" height="22.5" fill="#e9260f"/>
<rect x="462.77" y="534.5" width="2.85" height="23.4" fill="#e9260f"/>
<rect x="466.64" y="534.5" width="2.85" height="22.2" fill="#207008"/>
<rect x="470.51" y="534.5" width="2.85" height="20.8" fill="#207008"/>
<rect x="474.38" y="534.5" width="2.85" height="18.3" fill="#207008"/>
<rect x="478.26" y="534.5" width="2.85" height="13.1" fill="#207008"/>
<rect x="482.13" y="534.5" width="2.85" height="7.5" fill="#207008"/>
<rect x="486" y="534.5" width="2.85" height="4.6" fill="#207008"/>
<rect x="489.87" y="534.5" width="2.85" height="2" fill="#207008"/>
<rect x="493.74" y="534.5" width="2.85" height="3" fill="#e9260f"/>
<rect x="497.62" y="534.5" width="2.85" height="3.9" fill="#e9260f"/>
<rect x="501.49" y="534.5" width="2.85" height="5.2" fill="#e9260f"/>
<rect x="505.36" y="533.3" width="2.85" height="1.2" fill="#207008"/>
<rect x="509.23" y="526.1" width="2.85" height="8.4" fill="#207008"/>
<rect x="513.11" y="512.4" width="2.85" height="22.1" fill="#207008"/>
<rect x="516.98" y="505.6" width="2.85" height="28.9" fill="#207008"/>
<rect x="520.85" y="501.7" width="2.85" height="32.8" fill="#207008"/>
<rect x="524.72" y="502.9" width="2.85" height="31.6" fill="#e9260f"/>
<rect x="528.59" y="504.6" width="2.85" height="29.9" fill="#e9260f"/>
<rect x="532.47" y="510.2" width="2.85" height="24.3" fill="#e9260f"/>
<rect x="536.34" y="511.1" width="2.85" height="23.4" fill="#e9260f"/>
<rect x="540.21" y="510.2" width="2.85" height="24.3" fill="#207008"/>
<rect x="544.08" y="509.7" width="2.85" height="24.8" fill="#207008"/>
<rect x="547.96" y="511.1" width="2.85" height="23.4" fill="#e9260f"/>
<rect x="551.83" y="514.8" width="2.85" height="19.7" fill="#e9260f"/>
<rect x="555.7" y="516.2" width="2.85" height="18.3" fill="#e9260f"/>
<rect x="559.57" y="512.4" width="2.85" height="22.1" fill="#207008"/>
<rect x="563.44" y="509.4" width="2.85" height="25.1" fill="#207008"/>
<rect x="567.32" y="514.1" width="2.85" height="20.4" fill="#e9260f"/>
<rect x="571.19" y="520" width="2.85" height="14.5" fill="#e9260f"/>
<rect x="575.06" y="523" width="2.85" height="11.5" fill="#e9260f"/>
<rect x="578.93" y="526.1" width="2.85" height="8.4" fill="#e9260f"/>
<rect x="582.8" y="525.1" width="2.85" height="9.4" fill="#207008"/>
<rect x="586.68" y="522.2" width="2.85" height="12.3" fill="#207008"/>
<rect x="590.55" y="518.2" width="2.85" height="16.3" fill="#207008"/>
<rect x="594.42" y="515.3" width="2.85" height="19.2" fill="#207008"/>
<rect x="598.29" y="507.7" width="2.85" height="26.8" fill="#207008"/>
<rect x="602.17" y="504.6" width="2.85" height="29.9" fill="#207008"/>
<rect x="606.04" y="501.7" width="2.85" height="32.8" fill="#207008"/>
<rect x="609.91" y="502.9" width="2.85" height="31.6" fill="#e9260f"/>
<rect x="613.78" y="505.6" width="2.85" height="28.9" fill="#e9260f"/>
<rect x="617.65" y="493.2" width="2.85" height="41.3" fill="#207008"/>
<rect x="621.53" y="484.6" width="2.85" height="49.9" fill="#207008"/>
<rect x="625.4" y="480.7" width="2.85" height="53.8" fill="#207008"/>
<rect x="629.27" y="478.7" width="2.85" height="55.8" fill="#207008"/>
<rect x="633.14" y="476.6" width="2.85" height="57.9" fill="#207008"/>
<rect x="637.02" y="480.4" width="2.85" height="54.1" fill="#e9260f"/>
<rect x="640.89" y="481.2" width="2.85" height="53.3" fill="#e9260f"/>
<rect x="644.76" y="480.4" width="2.85" height="54.1" fill="#207008"/>
<rect x="648.63" y="485.1" width="2.85" height="49.4" fill="#e9260f"/>
<rect x="652.5" y="492" width="2.85" height="42.5" fill="#e9260f"/>
<rect x="656.38" y="498.8" width="2.85" height="35.7" fill="#e9260f"/>
<rect x="660.25" y="504.6" width="2.85" height="29.9" fill="#e9260f"/>
<rect x="664.12" y="509.4" width="2.85" height="25.1" fill="#e9260f"/>
<rect x="667.99" y="514.8" width="2.85" height="19.7" fill="#e9260f"/>
<rect x="671.87" y="518.2" width="2.85" height="16.3" fill="#e9260f"/>
<rect x="675.74" y="523" width="2.85" height="11.5" fill="#e9260f"/>
<rect x="679.61" y="523" width="2.85" height="11.5" fill="#207008"/>
<rect x="683.48" y="520.5" width="2.85" height="14" fill="#207008"/>
<rect x="687.35" y="523.9" width="2.85" height="10.6" fill="#e9260f"/>
<rect x="691.23" y="527.3" width="2.85" height="7.2" fill="#e9260f"/>
<rect x="695.1" y="528.1" width="2.85" height="6.4" fill="#e9260f"/>
<rect x="698.97" y="529" width="2.85" height="5.5" fill="#e9260f"/>
<rect x="702.84" y="530.2" width="2.85" height="4.3" fill="#e9260f"/>
<rect x="706.72" y="531.9" width="2.85" height="2.6" fill="#e9260f"/>
<rect x="710.59" y="531.9" width="2.85" height="2.6" fill="#207008"/>
<rect x="714.46" y="531.6" width="2.85" height="2.9" fill="#e9260f"/>
<rect x="718.33" y="532.4" width="2.85" height="2.1" fill="#e9260f"/>
<rect x="722.2" y="534.5" width="2.85" height="6.4" fill="#e9260f"/>
<rect x="726.08" y="534.5" width="2.85" height="7.6" fill="#e9260f"/>
<rect x="729.95" y="534.5" width="2.85" height="8.7" fill="#e9260f"/>
<rect x="733.82" y="534.5" width="2.85" height="10.4" fill="#e9260f"/>
<rect x="737.69" y="534.5" width="2.85" height="11.6" fill="#e9260f"/>
<rect x="741.57" y="534.5" width="2.85" height="10.4" fill="#207008"/>
<rect x="745.44" y="534.5" width="2.85" height="11.6" fill="#e9260f"/>
<rect x="749.31" y="534.5" width="2.85" height="8.7" fill="#207008"/>
<rect x="753.18" y="534.5" width="2.85" height="1.8" fill="#207008"/>
<rect x="757.05" y="529" width="2.85" height="5.5" fill="#207008"/>
<rect x="760.93" y="530.7" width="2.85" height="3.8" fill="#e9260f"/>
<rect x="764.8" y="534.5" width="2.85" height="2.5" fill="#e9260f"/>
<rect x="768.67" y="534.5" width="2.85" height="5.6" fill="#e9260f"/>
<rect x="772.54" y="534.5" width="2.85" height="9.3" fill="#e9260f"/>
<rect x="776.41" y="534.5" width="2.85" height="13.8" fill="#e9260f"/>
<rect x="780.29" y="534.5" width="2.85" height="17.9" fill="#e9260f"/>
<rect x="784.16" y="534.5" width="2.85" height="20.9" fill="#e9260f"/>
<rect x="788.03" y="534.5" width="2.85" height="21.8" fill="#e9260f"/>
<rect x="791.9" y="534.5" width="2.85" height="20.9" fill="#207008"/>
<rect x="795.78" y="534.5" width="2.85" height="23" fill="#e9260f"/>
<rect x="799.65" y="534.5" width="2.85" height="20.1" fill="#207008"/>
<rect x="803.52" y="534.5" width="2.85" height="14.1" fill="#207008"/>
<rect x="807.39" y="534.5" width="2.85" height="12.1" fill="#207008"/>
<rect x="811.26" y="534.5" width="2.85" height="10.2" fill="#207008"/>
<rect x="815.14" y="534.5" width="2.85" height="10.2" fill="#e9260f"/>
<rect x="819.01" y="534.5" width="2.85" height="9.3" fill="#207008"/>
<rect x="822.88" y="534.5" width="2.85" height="9.9" fill="#e9260f"/>
<rect x="826.75" y="534.5" width="2.85" height="11.5" fill="#e9260f"/>
<rect x="830.63" y="534.5" width="2.85" height="5.3" fill="#207008"/>
<rect x="834.5" y="534.5" width="2.85" height="3.6" fill="#207008"/>
<rect x="838.37" y="533.3" width="2.85" height="1.2" fill="#207008"/>
<rect x="842.24" y="533" width="2.85" height="1.5" fill="#207008"/>
<rect x="846.11" y="531" width="2.85" height="3.5" fill="#207008"/>
<rect x="849.99" y="529.1" width="2.85" height="5.4" fill="#207008"/>
<rect x="853.86" y="529.9" width="2.85" height="4.6" fill="#e9260f"/>
<rect x="857.73" y="531.5" width="2.85" height="3" fill="#e9260f"/>
<rect x="861.6" y="532.7" width="2.85" height="1.8" fill="#e9260f"/>
<rect x="865.48" y="534.5" width="2.85" height="2.1" fill="#e9260f"/>
<path fill="none" stroke="#bababa" stroke-width="1" d="M3.00,502.50 C5.33,500.55 10.83,490.98 17.00,490.80 C23.17,490.62 34.58,500.53 40.00,501.40 C45.42,502.27 46.78,499.03 49.50,496.00 C52.22,492.97 53.45,487.82 56.30,483.20 C59.15,478.58 63.48,471.00 66.60,468.30 C69.72,465.60 72.17,467.93 75.00,467.00 C77.83,466.07 81.32,463.87 83.60,462.70 C85.88,461.53 86.13,459.58 88.70,460.00 C91.27,460.42 95.02,462.90 99.00,465.20 C102.98,467.50 108.05,469.95 112.60,473.80 C117.15,477.65 122.17,484.18 126.30,488.30 C130.43,492.42 134.28,496.60 137.40,498.50 C140.52,500.40 142.30,500.27 145.00,499.70 C147.70,499.13 150.47,496.58 153.60,495.10 C156.73,493.62 161.07,491.60 163.80,490.80 C166.53,490.00 168.38,490.30 170.00,490.30 C171.62,490.30 171.50,489.35 173.50,490.80 C175.50,492.25 179.15,494.50 182.00,499.00 C184.85,503.50 187.60,511.88 190.60,517.80 C193.60,523.72 196.87,530.80 200.00,534.50 C203.13,538.20 206.13,538.47 209.40,540.00 C212.67,541.53 215.62,542.85 219.60,543.70 C223.58,544.55 228.73,544.63 233.30,545.10 C237.87,545.57 243.32,546.37 247.00,546.50 C250.68,546.63 252.72,546.70 255.40,545.90 C258.08,545.10 260.82,543.68 263.10,541.70 C265.38,539.72 266.97,536.00 269.10,534.00 C271.23,532.00 273.33,530.35 275.90,529.70 C278.47,529.05 281.37,530.23 284.50,530.10 C287.63,529.97 291.87,528.68 294.70,528.90 C297.53,529.12 298.95,529.55 301.50,531.40 C304.05,533.25 307.15,536.87 310.00,540.00 C312.85,543.13 315.75,547.22 318.60,550.20 C321.45,553.18 324.37,556.53 327.10,557.90 C329.83,559.27 332.82,559.12 335.00,558.40 C337.18,557.68 338.20,555.82 340.20,553.60 C342.20,551.38 345.00,547.32 347.00,545.10 C349.00,542.88 349.92,540.93 352.20,540.30 C354.48,539.67 357.28,541.07 360.70,541.30 C364.12,541.53 369.28,541.50 372.70,541.70 C376.12,541.90 378.37,542.22 381.20,542.50 C384.03,542.78 386.85,543.53 389.70,543.40 C392.55,543.27 395.73,542.70 398.30,541.70 C400.87,540.70 402.83,538.88 405.10,537.40 C407.37,535.92 409.63,534.08 411.90,532.80 C414.17,531.52 416.42,530.27 418.70,529.70 C420.98,529.13 423.60,528.83 425.60,529.40 C427.60,529.97 428.43,531.05 430.70,533.10 C432.97,535.15 436.07,539.70 439.20,541.70 C442.33,543.70 446.37,543.73 449.50,545.10 C452.63,546.47 455.17,548.48 458.00,549.90 C460.83,551.32 463.95,552.70 466.50,553.60 C469.05,554.50 471.02,555.23 473.30,555.30 C475.58,555.37 477.92,555.28 480.20,554.00 C482.48,552.72 484.73,549.65 487.00,547.60 C489.27,545.55 491.63,543.25 493.80,541.70 C495.97,540.15 498.38,538.92 500.00,538.30 C501.62,537.68 501.48,538.98 503.50,538.00 C505.52,537.02 509.53,535.18 512.10,532.40 C514.67,529.62 516.63,524.92 518.90,521.30 C521.17,517.68 523.72,513.32 525.70,510.70 C527.68,508.08 529.08,506.53 530.80,505.60 C532.52,504.67 534.00,504.62 536.00,505.10 C538.00,505.58 539.97,507.45 542.80,508.50 C545.63,509.55 549.58,510.68 553.00,511.40 C556.42,512.12 559.88,512.28 563.30,512.80 C566.72,513.32 570.67,513.50 573.50,514.50 C576.33,515.50 577.73,517.23 580.30,518.80 C582.87,520.37 586.62,523.33 588.90,523.90 C591.18,524.47 592.02,523.48 594.00,522.20 C595.98,520.92 598.53,518.20 600.80,516.20 C603.07,514.20 605.03,512.05 607.60,510.20 C610.17,508.35 613.35,507.52 616.20,505.10 C619.05,502.68 622.15,498.68 624.70,495.70 C627.25,492.72 629.23,489.82 631.50,487.20 C633.77,484.58 635.73,481.28 638.30,480.00 C640.87,478.72 644.33,478.58 646.90,479.50 C649.47,480.42 651.52,483.65 653.70,485.50 C655.88,487.35 657.82,488.05 660.00,490.60 C662.18,493.15 664.23,497.10 666.80,500.80 C669.37,504.50 672.55,509.67 675.40,512.80 C678.25,515.93 680.78,517.67 683.90,519.60 C687.02,521.53 690.68,522.98 694.10,524.40 C697.52,525.82 700.42,526.90 704.40,528.10 C708.38,529.30 714.02,530.03 718.00,531.60 C721.98,533.17 725.17,535.57 728.30,537.50 C731.43,539.43 733.97,541.97 736.80,543.20 C739.63,544.43 742.73,544.80 745.30,544.90 C747.87,545.00 750.07,544.75 752.20,543.80 C754.33,542.85 756.12,540.53 758.10,539.20 C760.08,537.87 762.25,536.65 764.10,535.80 C765.95,534.95 767.50,533.95 769.20,534.10 C770.90,534.25 772.30,535.13 774.30,536.70 C776.30,538.27 778.63,541.23 781.20,543.50 C783.77,545.77 786.87,548.45 789.70,550.30 C792.53,552.15 795.93,553.88 798.20,554.60 C800.47,555.32 801.30,555.17 803.30,554.60 C805.30,554.03 807.63,552.62 810.20,551.20 C812.77,549.78 815.47,547.23 818.70,546.10 C821.93,544.97 826.35,545.48 829.60,544.40 C832.85,543.32 835.35,541.18 838.20,539.60 C841.05,538.02 844.57,536.15 846.70,534.90 C848.83,533.65 849.15,532.75 851.00,532.10 C852.85,531.45 855.53,531.18 857.80,531.00 C860.07,530.82 862.53,530.63 864.60,531.00 C866.67,531.37 869.27,532.83 870.20,533.20"/>
</g>
<rect x="2" y="1" width="957.5" height="1" fill="#111"/>
<rect x="2" y="1" width="1" height="564.7" fill="#111"/>
<rect x="958.2" y="1" width="1.4" height="564.7" fill="#222"/>
<rect x="2" y="564.45" width="957.5" height="1.25" fill="#262626"/>
<polygon points="761.8,2 771,2 766.4,6.8" fill="#6c7c93"/>
<polygon points="3,559.5 3,564.5 8.5,564.5" fill="#6c7c93"/>
<rect x="997" y="0" width="1" height="586" fill="#ececec"/>
<rect x="998" y="0" width="1" height="586" fill="#f4f4f6"/>
<rect x="998.8" y="0" width="1.2" height="586" fill="#2b2d50"/>
<rect x="0" y="585" width="1000" height="1" fill="#e0e0e0"/>
<polygon points="5.8,7.6 12.8,7.6 9.3,11.7" fill="#111"/>
<text x="16.8" y="13" textLength="47.3" lengthAdjust="spacingAndGlyphs" style="font-family:'Liberation Sans',sans-serif;font-size:10px;text-rendering:geometricPrecision;fill:#000;stroke:#000;stroke-width:0.3px">UKBrent,H1</text>
<text x="71.2" y="13" textLength="98" lengthAdjust="spacingAndGlyphs" style="font-family:'Liberation Sans',sans-serif;font-size:10px;text-rendering:geometricPrecision;fill:#000;stroke:#000;stroke-width:0.3px">48.54 48.68 48.54 48.64</text>
<text x="6.6" y="463" textLength="82.2" lengthAdjust="spacingAndGlyphs" style="font-family:'Liberation Sans',sans-serif;font-size:10px;text-rendering:geometricPrecision;fill:#000;stroke:#000;stroke-width:0.3px">MACD_color(5,34,5)</text>
<text x="91.7" y="463" textLength="30.6" lengthAdjust="spacingAndGlyphs" style="font-family:'Liberation Sans',sans-serif;font-size:10px;text-rendering:geometricPrecision;fill:#000;stroke:#000;stroke-width:0.3px">0.00000</text>
<text x="126.6" y="463" textLength="30.8" lengthAdjust="spacingAndGlyphs" style="font-family:'Liberation Sans',sans-serif;font-size:10px;text-rendering:geometricPrecision;fill:#000;stroke:#000;stroke-width:0.3px">0.00000</text>
<text x="161.3" y="463" textLength="31" lengthAdjust="spacingAndGlyphs" style="font-family:'Liberation Sans',sans-serif;font-size:10px;text-rendering:geometricPrecision;fill:#000;stroke:#000;stroke-width:0.3px">0.02521</text>
<rect x="959" y="12.27" width="2" height="1" fill="#222"/>
<text x="963.9" y="16" textLength="22.8" lengthAdjust="spacingAndGlyphs" style="font-family:'Liberation Sans',sans-serif;font-size:10px;text-rendering:geometricPrecision;fill:#000;stroke:#000;stroke-width:0.3px">50.00</text>
<rect x="959" y="44.16" width="2" height="1" fill="#222"/>
<text x="963.9" y="48" textLength="22.8" lengthAdjust="spacingAndGlyphs" style="font-family:'Liberation Sans',sans-serif;font-size:10px;text-rendering:geometricPrecision;fill:#000;stroke:#000;stroke-width:0.3px">49.70</text>
<rect x="959" y="107.94" width="2" height="1" fill="#222"/>
<text x="963.9" y="112" textLength="22.8" lengthAdjust="spacingAndGlyphs" style="font-family:'Liberation Sans',sans-serif;font-size:10px;text-rendering:geometricPrecision;fill:#000;stroke:#000;stroke-width:0.3px">49.10</text>
<rect x="959" y="145.14" width="2" height="1" fill="#222"/>
<text x="963.9" y="149" textLength="22.8" lengthAdjust="spacingAndGlyphs" style="font-family:'Liberation Sans',sans-serif;font-size:10px;text-rendering:geometricPrecision;fill:#000;stroke:#000;stroke-width:0.3px">48.75</text>
<rect x="959" y="177.03" width="2" height="1" fill="#222"/>
<text x="963.9" y="181" textLength="22.8" lengthAdjust="spacingAndGlyphs" style="font-family:'Liberation Sans',sans-serif;font-size:10px;text-rendering:geometricPrecision;fill:#000;stroke:#000;stroke-width:0.3px">48.45</text>
<rect x="959" y="208.93" width="2" height="1" fill="#222"/>
<text x="963.9" y="213" textLength="22.8" lengthAdjust="spacingAndGlyphs" style="font-family:'Liberation Sans',sans-serif;font-size:10px;text-rendering:geometricPrecision;fill:#000;stroke:#000;stroke-width:0.3px">48.15</text>
<rect x="959" y="246.13" width="2" height="1" fill="#222"/>
<text x="963.9" y="250" textLength="22.8" lengthAdjust="spacingAndGlyphs" style="font-family:'Liberation Sans',sans-serif;font-size:10px;text-rendering:geometricPrecision;fill:#000;stroke:#000;stroke-width:0.3px">47.80</text>
<rect x="959" y="278.02" width="2" height="1" fill="#222"/>
<text x="963.9" y="282" textLength="22.8" lengthAdjust="spacingAndGlyphs" style="font-family:'Liberation Sans',sans-serif;font-size:10px;text-rendering:geometricPrecision;fill:#000;stroke:#000;stroke-width:0.3px">47.50</text>
<rect x="959" y="309.91" width="2" height="1" fill="#222"/>
<text x="963.9" y="314" textLength="22.8" lengthAdjust="spacingAndGlyphs" style="font-family:'Liberation Sans',sans-serif;font-size:10px;text-rendering:geometricPrecision;fill:#000;stroke:#000;stroke-width:0.3px">47.20</text>
<rect x="959" y="347.11" width="2" height="1" fill="#222"/>
<text x="963.9" y="351" textLength="22.8" lengthAdjust="spacingAndGlyphs" style="font-family:'Liberation Sans',sans-serif;font-size:10px;text-rendering:geometricPrecision;fill:#000;stroke:#000;stroke-width:0.3px">46.85</text>
<rect x="959" y="379.01" width="2" height="1" fill="#222"/>
<text x="963.9" y="383" textLength="22.8" lengthAdjust="spacingAndGlyphs" style="font-family:'Liberation Sans',sans-serif;font-size:10px;text-rendering:geometricPrecision;fill:#000;stroke:#000;stroke-width:0.3px">46.55</text>
<rect x="959" y="410.89" width="2" height="1" fill="#222"/>
<text x="963.9" y="415" textLength="22.8" lengthAdjust="spacingAndGlyphs" style="font-family:'Liberation Sans',sans-serif;font-size:10px;text-rendering:geometricPrecision;fill:#000;stroke:#000;stroke-width:0.3px">46.25</text>
<rect x="959" y="442.78" width="2" height="1" fill="#222"/>
<text x="963.9" y="447" textLength="22.8" lengthAdjust="spacingAndGlyphs" style="font-family:'Liberation Sans',sans-serif;font-size:10px;text-rendering:geometricPrecision;fill:#000;stroke:#000;stroke-width:0.3px">45.95</text>
<rect x="961.1" y="17.1" width="28.2" height="10.7" fill="#ee2a1a"/>
<text x="963.9" y="26" textLength="22.8" lengthAdjust="spacingAndGlyphs" style="font-family:'Liberation Sans',sans-serif;font-size:10px;text-rendering:geometricPrecision;fill:#000;stroke:#000;stroke-width:0.3px;fill:#fff;stroke:#fff">49.90</text>
<rect x="961.1" y="71.9" width="28.2" height="9.9" fill="#ee2a1a"/>
<text x="963.9" y="80" textLength="22.8" lengthAdjust="spacingAndGlyphs" style="font-family:'Liberation Sans',sans-serif;font-size:10px;text-rendering:geometricPrecision;fill:#000;stroke:#000;stroke-width:0.3px;fill:#fff;stroke:#fff">49.39</text>
<rect x="961.1" y="257.9" width="28.2" height="9.9" fill="#ee2a1a"/>
<text x="963.9" y="266" textLength="22.8" lengthAdjust="spacingAndGlyphs" style="font-family:'Liberation Sans',sans-serif;font-size:10px;text-rendering:geometricPrecision;fill:#000;stroke:#000;stroke-width:0.3px;fill:#fff;stroke:#fff">47.64</text>
<rect x="961.1" y="348.9" width="28.2" height="9.9" fill="#ee2a1a"/>
<text x="963.9" y="357" textLength="22.8" lengthAdjust="spacingAndGlyphs" style="font-family:'Liberation Sans',sans-serif;font-size:10px;text-rendering:geometricPrecision;fill:#000;stroke:#000;stroke-width:0.3px;fill:#fff;stroke:#fff">46.78</text>
<rect x="961.1" y="424.1" width="28.2" height="10.7" fill="#ee2a1a"/>
<text x="963.9" y="433" textLength="22.8" lengthAdjust="spacingAndGlyphs" style="font-family:'Liberation Sans',sans-serif;font-size:10px;text-rendering:geometricPrecision;fill:#000;stroke:#000;stroke-width:0.3px;fill:#fff;stroke:#fff">46.07</text>
<rect x="961.1" y="152.15" width="28.2" height="10.45" fill="#000"/>
<text x="963.9" y="161" textLength="22.8" lengthAdjust="spacingAndGlyphs" style="font-family:'Liberation Sans',sans-serif;font-size:10px;text-rendering:geometricPrecision;fill:#000;stroke:#000;stroke-width:0.3px;fill:#fff;stroke:#fff">48.64</text>
<rect x="959" y="451.8" width="2" height="1" fill="#222"/>
<text x="962.7" y="461" textLength="30.5" lengthAdjust="spacingAndGlyphs" style="font-family:'Liberation Sans',sans-serif;font-size:10px;text-rendering:geometricPrecision;fill:#000;stroke:#000;stroke-width:0.3px">1.41771</text>
<rect x="959" y="534.5" width="2" height="1" fill="#222"/>
<text x="962" y="539" textLength="16.9" lengthAdjust="spacingAndGlyphs" style="font-family:'Liberation Sans',sans-serif;font-size:10px;text-rendering:geometricPrecision;fill:#000;stroke:#000;stroke-width:0.3px">0.00</text>
<rect x="959" y="563.5" width="2" height="1" fill="#222"/>
<text x="962.4" y="562" textLength="34.8" lengthAdjust="spacingAndGlyphs" style="font-family:'Liberation Sans',sans-serif;font-size:10px;text-rendering:geometricPrecision;fill:#000;stroke:#000;stroke-width:0.3px">-0.50302</text>
<rect x="2.9" y="565" width="1" height="3.2" fill="#222"/>
<text x="2.2" y="577" textLength="50.4" lengthAdjust="spacingAndGlyphs" style="font-family:'Liberation Sans',sans-serif;font-size:10px;text-rendering:geometricPrecision;fill:#000;stroke:#000;stroke-width:0.3px">24 Nov 2020</text>
<rect x="64.86" y="565" width="1" height="3.2" fill="#222"/>
<text x="64.16" y="577" textLength="53.6" lengthAdjust="spacingAndGlyphs" style="font-family:'Liberation Sans',sans-serif;font-size:10px;text-rendering:geometricPrecision;fill:#000;stroke:#000;stroke-width:0.3px">24 Nov 21:00</text>
<rect x="126.81" y="565" width="1" height="3.2" fill="#222"/>
<text x="126.11" y="577" textLength="53.6" lengthAdjust="spacingAndGlyphs" style="font-family:'Liberation Sans',sans-serif;font-size:10px;text-rendering:geometricPrecision;fill:#000;stroke:#000;stroke-width:0.3px">25 Nov 16:00</text>
<rect x="188.77" y="565" width="1" height="3.2" fill="#222"/>
<text x="188.07" y="577" textLength="53.6" lengthAdjust="spacingAndGlyphs" style="font-family:'Liberation Sans',sans-serif;font-size:10px;text-rendering:geometricPrecision;fill:#000;stroke:#000;stroke-width:0.3px">26 Nov 11:00</text>
<rect x="250.72" y="565" width="1" height="3.2" fill="#222"/>
<text x="250.02" y="577" textLength="53.6" lengthAdjust="spacingAndGlyphs" style="font-family:'Liberation Sans',sans-serif;font-size:10px;text-rendering:geometricPrecision;fill:#000;stroke:#000;stroke-width:0.3px">27 Nov 10:00</text>
<rect x="312.68" y="565" width="1" height="3.2" fill="#222"/>
<text x="311.98" y="577" textLength="53.6" lengthAdjust="spacingAndGlyphs" style="font-family:'Liberation Sans',sans-serif;font-size:10px;text-rendering:geometricPrecision;fill:#000;stroke:#000;stroke-width:0.3px">30 Nov 08:00</text>
<rect x="374.63" y="565" width="1" height="3.2" fill="#222"/>
<text x="373.93" y="577" textLength="46.9" lengthAdjust="spacingAndGlyphs" style="font-family:'Liberation Sans',sans-serif;font-size:10px;text-rendering:geometricPrecision;fill:#000;stroke:#000;stroke-width:0.3px">1 Dec 03:00</text>
<rect x="436.59" y="565" width="1" height="3.2" fill="#222"/>
<text x="435.89" y="577" textLength="46.9" lengthAdjust="spacingAndGlyphs" style="font-family:'Liberation Sans',sans-serif;font-size:10px;text-rendering:geometricPrecision;fill:#000;stroke:#000;stroke-width:0.3px">1 Dec 19:00</text>
<rect x="498.54" y="565" width="1" height="3.2" fill="#222"/>
<text x="497.84" y="577" textLength="46.9" lengthAdjust="spacingAndGlyphs" style="font-family:'Liberation Sans',sans-serif;font-size:10px;text-rendering:geometricPrecision;fill:#000;stroke:#000;stroke-width:0.3px">2 Dec 14:00</text>
<rect x="560.5" y="565" width="1" height="3.2" fill="#222"/>
<text x="559.8" y="577" textLength="46.9" lengthAdjust="spacingAndGlyphs" style="font-family:'Liberation Sans',sans-serif;font-size:10px;text-rendering:geometricPrecision;fill:#000;stroke:#000;stroke-width:0.3px">3 Dec 09:00</text>
<rect x="622.45" y="565" width="1" height="3.2" fill="#222"/>
<text x="621.75" y="577" textLength="46.9" lengthAdjust="spacingAndGlyphs" style="font-family:'Liberation Sans',sans-serif;font-size:10px;text-rendering:geometricPrecision;fill:#000;stroke:#000;stroke-width:0.3px">4 Dec 04:00</text>
<rect x="684.41" y="565" width="1" height="3.2" fill="#222"/>
<text x="683.71" y="577" textLength="46.9" lengthAdjust="spacingAndGlyphs" style="font-family:'Liberation Sans',sans-serif;font-size:10px;text-rendering:geometricPrecision;fill:#000;stroke:#000;stroke-width:0.3px">4 Dec 20:00</text>
<rect x="746.36" y="565" width="1" height="3.2" fill="#222"/>
<text x="745.66" y="577" textLength="46.9" lengthAdjust="spacingAndGlyphs" style="font-family:'Liberation Sans',sans-serif;font-size:10px;text-rendering:geometricPrecision;fill:#000;stroke:#000;stroke-width:0.3px">7 Dec 16:00</text>
<rect x="808.32" y="565" width="1" height="3.2" fill="#222"/>
<text x="807.62" y="577" textLength="46.9" lengthAdjust="spacingAndGlyphs" style="font-family:'Liberation Sans',sans-serif;font-size:10px;text-rendering:geometricPrecision;fill:#000;stroke:#000;stroke-width:0.3px">8 Dec 11:00</text>
<rect x="870.27" y="565" width="1" height="3.2" fill="#222"/>
<text x="869.57" y="577" textLength="46.9" lengthAdjust="spacingAndGlyphs" style="font-family:'Liberation Sans',sans-serif;font-size:10px;text-rendering:geometricPrecision;fill:#000;stroke:#000;stroke-width:0.3px">9 Dec 06:00</text>
</svg></body></html>
